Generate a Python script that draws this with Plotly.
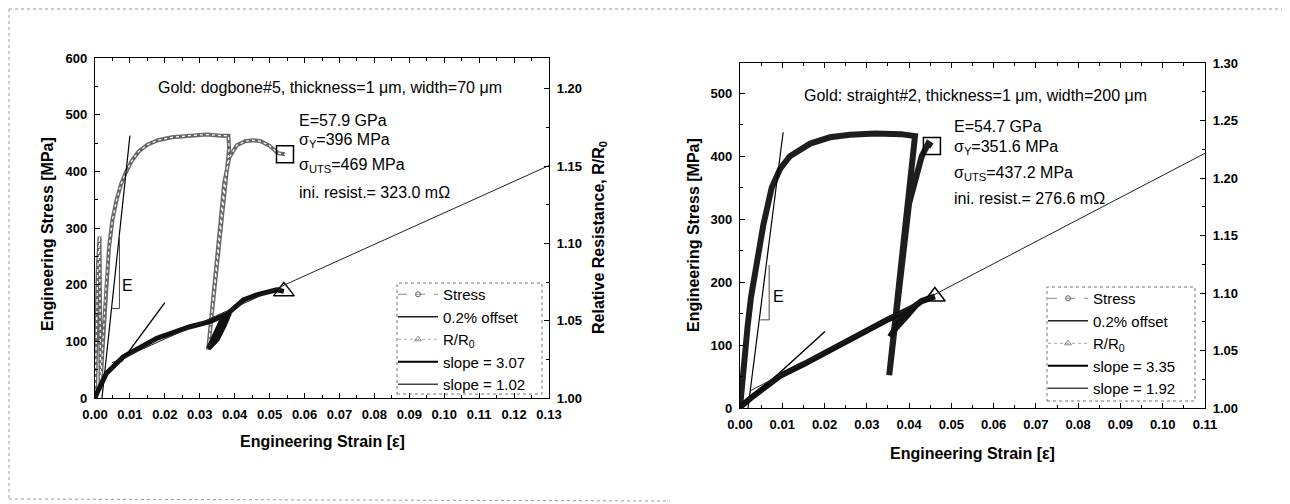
import plotly.graph_objects as go

# Page is rendered with an 8px body margin: the figure is sized to fit the 1290x504 window
OFF = 8
W, H = 1290 - OFF, 504 - OFF

# ---------------- Left panel: Gold dogbone#5 ----------------
L_stress_strain = [0.0000, 0.0004, 0.0008, 0.0013, 0.0016, 0.0020, 0.0030, 0.0040, 0.0050, 0.0062,
                   0.0075, 0.0088, 0.0105, 0.0125, 0.0150, 0.0180, 0.0220, 0.0270, 0.0320, 0.0360,
                   0.0382, 0.0384, 0.0324, 0.0350, 0.0370, 0.0385, 0.0406, 0.0430, 0.0452, 0.0475,
                   0.0500, 0.0524, 0.0544]
L_stress = [0, 120, 230, 285, 20, 70, 180, 265, 315, 350,
            378, 398, 418, 435, 447, 455, 460, 463, 465, 463,
            463, 440, 85, 250, 380, 425, 446, 453, 455, 453,
            445, 432, 430]
L_R_strain = [0.0000, 0.0005, 0.0033, 0.0081, 0.0177, 0.0272, 0.0329, 0.0368, 0.0385, 0.0370,
              0.0350, 0.0325, 0.0340, 0.0360, 0.0387, 0.0425, 0.0463, 0.0520, 0.0541]
L_R = [1.000, 1.003, 1.016, 1.0267, 1.0386, 1.0461, 1.0494, 1.0535, 1.0550, 1.047,
       1.038, 1.032, 1.040, 1.049, 1.056, 1.0634, 1.0667, 1.0700, 1.0690]
L_offset_strain = [0.0020, 0.0100]
L_offset_stress = [0, 463]
L_slopeA_strain = [0.0075, 0.0200]   # slope = 3.07
L_slopeA_R = [1.0234, 1.0617]
L_slopeB_strain = [0.0048, 0.1300]   # slope = 1.02
L_slopeB_R = [1.0227, 1.1504]
L_Etri_strain = [0.0047, 0.0070, 0.0070]
L_Etri_stress = [158, 158, 288]
L_E_label = (0.0092, 199)
L_texts = ["E=57.9 GPa", "σ<sub>Y</sub>=396 MPa", "σ<sub>UTS</sub>=469 MPa", "ini. resist.= 323.0 mΩ"]
L_title = "Gold: dogbone#5, thickness=1 μm, width=70 μm"
L_legend = ["Stress", "0.2% offset", "R/R<sub>0</sub>", "slope = 3.07", "slope = 1.02"]

# ---------------- Right panel: Gold straight#2 ----------------
R_stress_strain = [0.0000, 0.0008, 0.0018, 0.0026, 0.0040, 0.0055, 0.0075, 0.0095, 0.0118, 0.0166,
                   0.0213, 0.0260, 0.0320, 0.0380, 0.0414, 0.0353, 0.0400, 0.0430, 0.0445, 0.0454]
R_stress = [0, 71, 130, 176, 230, 290, 350, 380, 400, 420,
            430, 434, 436, 435, 432, 52, 325, 400, 420, 416]
R_R_strain = [0.0000, 0.0004, 0.0030, 0.0060, 0.0095, 0.0150, 0.0201, 0.0250, 0.0300, 0.0350,
              0.0400, 0.0416, 0.0390, 0.0365, 0.0355, 0.0375, 0.0400, 0.0430, 0.0461]
R_R = [1.000, 1.002, 1.010, 1.019, 1.028, 1.038, 1.048, 1.057, 1.068, 1.077,
       1.086, 1.089, 1.078, 1.068, 1.062, 1.074, 1.085, 1.093, 1.097]
R_offset_strain = [0.0019, 0.0102]
R_offset_stress = [0, 438]
R_slopeA_strain = [0.0040, 0.0201]   # slope = 3.35
R_slopeA_R = [1.0127, 1.0666]
R_slopeB_strain = [0.0024, 0.1100]   # slope = 1.92
R_slopeB_R = [1.0149, 1.2215]
R_Etri_strain = [0.0048, 0.0069, 0.0069]
R_Etri_stress = [140, 140, 227]
R_E_label = (0.0090, 177)
R_texts = ["E=54.7 GPa", "σ<sub>Y</sub>=351.6 MPa", "σ<sub>UTS</sub>=437.2 MPa", "ini. resist.= 276.6 mΩ"]
R_title = "Gold: straight#2, thickness=1 μm, width=200 μm"
R_legend = ["Stress", "0.2% offset", "R/R<sub>0</sub>", "slope = 3.35", "slope = 1.92"]

FONT = "Liberation Sans, Arial, sans-serif"


def px(x):
    return (x - OFF) / W


def py(y):
    return 1 - (y - OFF) / H


fig = go.Figure()


def add_panel(xa, ya, ya2, s_x, s_y, r_x, r_y, off_x, off_y, sa_x, sa_y, sb_x, sb_y,
              et_x, et_y, stress_color, stress_w, r_w, texture, legend_names, legend_id):
    fig.add_trace(go.Scatter(x=s_x, y=s_y, mode='lines', line=dict(color=stress_color, width=stress_w),
                             xaxis=xa, yaxis=ya, showlegend=False, hoverinfo='skip'))
    if texture:
        fig.add_trace(go.Scatter(x=s_x, y=s_y, mode='lines', line=dict(color='white', width=1.2, dash='dot'),
                                 xaxis=xa, yaxis=ya, showlegend=False, hoverinfo='skip'))
    fig.add_trace(go.Scatter(x=s_x[-1:], y=s_y[-1:], mode='markers',
                             marker=dict(symbol='square-open', size=17, color='black', line=dict(width=1.5)),
                             xaxis=xa, yaxis=ya, showlegend=False, hoverinfo='skip'))
    fig.add_trace(go.Scatter(x=off_x, y=off_y, mode='lines', line=dict(color='black', width=1.2),
                             xaxis=xa, yaxis=ya, showlegend=False, hoverinfo='skip'))
    fig.add_trace(go.Scatter(x=et_x, y=et_y, mode='lines', line=dict(color='#444', width=1),
                             xaxis=xa, yaxis=ya, showlegend=False, hoverinfo='skip'))
    fig.add_trace(go.Scatter(x=r_x, y=r_y, mode='lines', line=dict(color='#111', width=r_w),
                             xaxis=xa, yaxis=ya2, showlegend=False, hoverinfo='skip'))
    fig.add_trace(go.Scatter(x=r_x[-1:], y=r_y[-1:], mode='markers',
                             marker=dict(symbol='triangle-up-open', size=18, color='black', line=dict(width=1.5)),
                             xaxis=xa, yaxis=ya2, showlegend=False, hoverinfo='skip'))
    fig.add_trace(go.Scatter(x=sa_x, y=sa_y, mode='lines', line=dict(color='black', width=1.4),
                             xaxis=xa, yaxis=ya2, showlegend=False, hoverinfo='skip'))
    fig.add_trace(go.Scatter(x=sb_x, y=sb_y, mode='lines', line=dict(color='#222', width=1),
                             xaxis=xa, yaxis=ya2, showlegend=False, hoverinfo='skip'))
    styles = [
        dict(mode='lines+markers', line=dict(color='#888', width=1, dash='dash'),
             marker=dict(symbol='circle-open', size=5, color='#666')),
        dict(mode='lines', line=dict(color='#222', width=1.5)),
        dict(mode='lines+markers', line=dict(color='#aaa', width=1, dash='dot'),
             marker=dict(symbol='triangle-up-open', size=6, color='#888')),
        dict(mode='lines', line=dict(color='black', width=2)),
        dict(mode='lines', line=dict(color='#444', width=1.5)),
    ]
    for name, st in zip(legend_names, styles):
        fig.add_trace(go.Scatter(x=[None], y=[None], name=name, xaxis=xa, yaxis=ya,
                                 legend=legend_id, showlegend=True, **st))


add_panel('x', 'y', 'y2', L_stress_strain, L_stress, L_R_strain, L_R, L_offset_strain, L_offset_stress,
          L_slopeA_strain, L_slopeA_R, L_slopeB_strain, L_slopeB_R, L_Etri_strain, L_Etri_stress,
          '#666666', 4, 5, True, L_legend, 'legend')
add_panel('x2', 'y3', 'y4', R_stress_strain, R_stress, R_R_strain, R_R, R_offset_strain, R_offset_stress,
          R_slopeA_strain, R_slopeA_R, R_slopeB_strain, R_slopeB_R, R_Etri_strain, R_Etri_stress,
          '#1e1e1e', 6, 6, False, R_legend, 'legend2')

tickfont = dict(family=FONT, size=13, color='black', weight='bold')
common = dict(showline=True, linecolor='black', linewidth=1.3, ticks='inside', ticklen=5,
              tickwidth=1.2, tickcolor='black', showgrid=False, zeroline=False,
              tickfont=tickfont, ticklabelstandoff=4, automargin=False)

legend_common = dict(xanchor='left', yanchor='top', bgcolor='rgba(0,0,0,0)',
                     font=dict(family=FONT, size=15, color='black'), itemwidth=40, tracegroupgap=0)

fig.update_layout(
    width=W, height=H, margin=dict(l=0, r=0, t=0, b=0, autoexpand=False),
    paper_bgcolor='white', plot_bgcolor='white',
    xaxis=dict(domain=[px(95), px(549)], range=[0, 0.13], anchor='y', dtick=0.01, tickformat='.2f',
               mirror='ticks', minor=dict(dtick=0.005, ticks='inside', ticklen=3, tickcolor='black'), **common),
    yaxis=dict(domain=[py(398), py(58)], range=[0, 600], anchor='x', dtick=100,
               minor=dict(dtick=50, ticks='inside', ticklen=3, tickcolor='black'), **common),
    yaxis2=dict(overlaying='y', side='right', anchor='x', range=[1.0, 1.22], dtick=0.05, tickformat='.2f',
                minor=dict(dtick=0.025, ticks='inside', ticklen=3, tickcolor='black'), **common),
    xaxis2=dict(domain=[px(740), px(1205)], range=[0, 0.11], anchor='y3', dtick=0.01, tickformat='.2f',
                mirror='ticks', minor=dict(dtick=0.005, ticks='inside', ticklen=3, tickcolor='black'), **common),
    yaxis3=dict(domain=[py(408), py(63)], range=[0, 548], anchor='x2', dtick=100,
                minor=dict(dtick=50, ticks='inside', ticklen=3, tickcolor='black'), **common),
    yaxis4=dict(overlaying='y3', side='right', anchor='x2', range=[1.0, 1.30], dtick=0.05, tickformat='.2f',
                minor=dict(dtick=0.025, ticks='inside', ticklen=3, tickcolor='black'), **common),
    legend=dict(x=px(393), y=py(278), **legend_common),
    legend2=dict(x=px(1043), y=py(282), **legend_common),
    showlegend=True,
)

ann = []


def text(x, y, t, size=16, bold=False, xanchor='left', angle=0):
    ann.append(dict(x=px(x), y=py(y), xref='paper', yref='paper', text=t, showarrow=False,
                    xanchor=xanchor, yanchor='middle', textangle=angle,
                    font=dict(family=FONT, size=size, color='black', weight='bold' if bold else 'normal')))


text(330, 88, L_title, xanchor='center')
for t, yy in zip(L_texts, [120, 141, 165, 192]):
    text(297, yy, t)
text(975, 95, R_title, xanchor='center')
for t, yy in zip(R_texts, [126, 147, 173, 199]):
    text(952, yy, t)

text(48, 234, "Engineering Stress [MPa]", bold=True, xanchor='center', angle=-90)
text(600, 238, "Relative Resistance, R/R<sub>0</sub>", bold=True, xanchor='center', angle=-90)
text(322, 441, "Engineering Strain [ε]", bold=True, xanchor='center')
text(693, 235, "Engineering Stress [MPa]", bold=True, xanchor='center', angle=-90)
text(972, 453, "Engineering Strain [ε]", bold=True, xanchor='center')

ann.append(dict(x=L_E_label[0], y=L_E_label[1], xref='x', yref='y', text='E', showarrow=False,
                font=dict(family=FONT, size=16, color='black')))
ann.append(dict(x=R_E_label[0], y=R_E_label[1], xref='x2', yref='y3', text='E', showarrow=False,
                font=dict(family=FONT, size=16, color='black')))
fig.update_layout(annotations=ann)

shapes = []


def rect(x0, y0, x1, y1, color='#777', dash='dot', width=1):
    shapes.append(dict(type='rect', xref='paper', yref='paper', x0=px(x0), x1=px(x1), y0=py(y1), y1=py(y0),
                       line=dict(color=color, width=width, dash=dash)))


def line(x0, y0, x1, y1, color='#999', dash='dot', width=1):
    shapes.append(dict(type='line', xref='paper', yref='paper', x0=px(x0), x1=px(x1), y0=py(y0), y1=py(y1),
                       line=dict(color=color, width=width, dash=dash)))


rect(397, 283, 542, 394)
rect(1047, 287, 1195, 401)
line(9, 9, 1285, 9)
line(9, 9, 9, 499)
line(9, 499, 670, 501)
line(1285, 9, 1285, 483)
fig.update_layout(shapes=shapes)

fig.write_html("out.html")
